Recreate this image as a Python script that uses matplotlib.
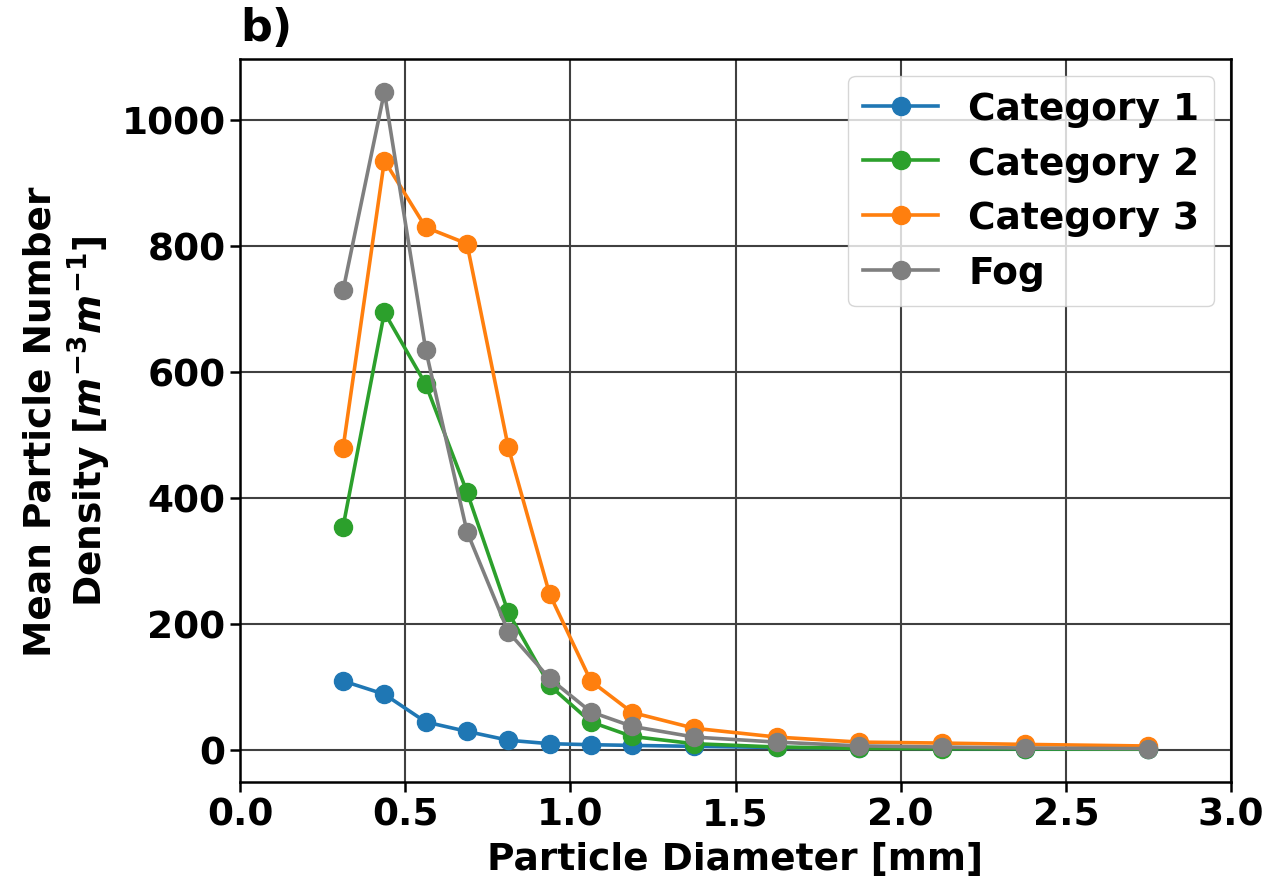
import numpy as np
import matplotlib.pyplot as plt

plt.rcParams['font.family'] = 'DejaVu Sans'
plt.rcParams['font.weight'] = 'bold'
plt.rcParams['axes.labelweight'] = 'bold'
plt.rcParams['mathtext.default'] = 'it'

# Disdrometer size class centres [mm]
diameter = [0.312, 0.437, 0.562, 0.687, 0.812, 0.937, 1.062, 1.187,
            1.375, 1.625, 1.875, 2.125, 2.375, 2.750]

# Mean particle number density per class
cat1 = [109, 88, 44, 29, 15, 9.5, 7.9, 6.8, 5.3, 3.5, 2.5, 2.0, 1.5, 1.0]
cat2 = [354, 694, 580, 409, 218, 102, 44, 21, 9.5, 4.2, 2.0, 1.5, 1.2, 0.8]
cat3 = [479, 935, 829, 803, 480, 247, 109, 59, 34, 20, 12, 10.5, 8.4, 5.8]
fog = [729, 1044, 635, 346, 187, 113, 60, 37, 20, 12, 6, 4.2, 2.6, 1.6]

series = [("Category 1", cat1, "tab:blue"),
          ("Category 2", cat2, "tab:green"),
          ("Category 3", cat3, "tab:orange"),
          ("Fog", fog, "tab:gray")]

fig = plt.figure(figsize=(12.74, 8.87), dpi=100)
ax = fig.add_axes([0.1884, 0.1172, 0.7779, 0.8152])

for name, vals, col in series:
    ax.plot(diameter, vals, marker='o', color=col, lw=2.6, ms=13, label=name)

ax.set_xlim(0, 3.0)
ax.grid(True, color='0.25', lw=1.5)
ax.set_axisbelow(True)

ax.tick_params(labelsize=27, width=1.8, length=7)
for sp in ax.spines.values():
    sp.set_linewidth(1.8)

ax.set_xlabel('Particle Diameter [mm]', fontsize=27, labelpad=6)
ax.set_ylabel('Mean Particle Number\nDensity [$m^{-3}m^{-1}$]', fontsize=27,
              labelpad=6)
ax.set_title('b)', loc='left', fontsize=32, fontweight='bold', pad=14)

ax.legend(loc='upper right', prop={'weight': 'bold', 'size': 27},
          borderaxespad=0.45)

fig.savefig('out.png', dpi=100)
